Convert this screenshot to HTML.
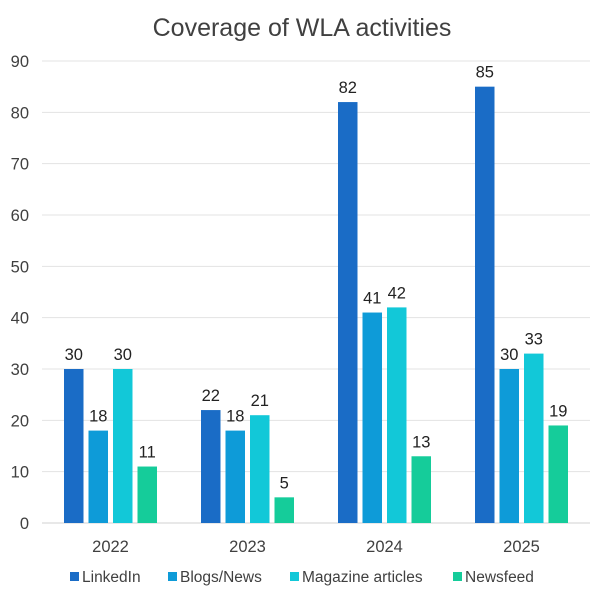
<!DOCTYPE html>
<html><head><meta charset="utf-8"><style>
body{margin:0;background:#fff;font-family:"Liberation Sans",Arial,sans-serif}
svg text{font-family:"Liberation Sans",Arial,sans-serif}
</style></head><body>
<svg id="c" width="604" height="600">
<text x="302" y="36" text-anchor="middle" font-size="25" fill="#404040">Coverage of WLA activities</text>
<g id="grid"></g><g id="bars"></g><g id="legend"></g>
</svg>
<script>
const categories=["2022","2023","2024","2025"];
const seriesNames=["LinkedIn","Blogs/News","Magazine articles","Newsfeed"];
const linkedin=[30,22,82,85];
const blogs=[18,18,41,30];
const magazine=[30,21,42,33];
const newsfeed=[11,5,13,19];
const yTicks=[0,10,20,30,40,50,60,70,80,90];
const colors=["#1a6cc6","#0e9bd8","#12c8d8","#15cc9a"];
const series=[linkedin,blogs,magazine,newsfeed];
const NS="http://www.w3.org/2000/svg";
const L=42,R=590,B=523,T=61,yMax=90;
const y=v=>B-(B-T)*v/yMax;
const gw=(R-L)/categories.length;
const x=i=>L+gw*(i+0.5);
function mk(t,a,p){const e=document.createElementNS(NS,t);for(const k in a)e.setAttribute(k,a[k]);p.appendChild(e);return e;}
const grid=document.getElementById('grid');
yTicks.forEach(t=>{
 const l=mk('line',{x1:L,x2:R,y1:y(t),y2:y(t),stroke:t===0?'#d0d0d0':'#e3e3e3','stroke-width':1},grid);
 
 
 const tx=mk('text',{x:L-13,y:y(t)+6,'text-anchor':'end','font-size':16.5,fill:'#404040'},grid);
 tx.textContent=t;
 
 
});
const bars=document.getElementById('bars');
const bw=19.5,step=24.5;
categories.forEach((c,i)=>{
 const cl=mk('text',{x:x(i),y:B+29,'text-anchor':'middle','font-size':16.5,fill:'#404040'},bars);
 cl.textContent=c;
 
 
 series.forEach((s,j)=>{
  const bx=x(i)+(j-1.5)*step-bw/2;
  const r=mk('rect',{x:bx,y:y(s[i]),width:bw,height:B-y(s[i]),fill:colors[j]},bars);
  
  
  const t=mk('text',{x:bx+bw/2,y:y(s[i])-9,'text-anchor':'middle','font-size':16.5,fill:'#222'},bars);
  t.textContent=s[i];
  
  
 });
});
const lg=document.getElementById('legend');
const lx=[70,168,290,453];
seriesNames.forEach((n,j)=>{
 const g=mk('g',{},lg);
 
 
 mk('rect',{x:lx[j],y:572,width:9,height:9,fill:colors[j]},g);
 const t=mk('text',{x:lx[j]+12,y:582,'font-size':15.5,fill:'#404040'},g);
 t.textContent=n;
});
</script>
</body></html>
